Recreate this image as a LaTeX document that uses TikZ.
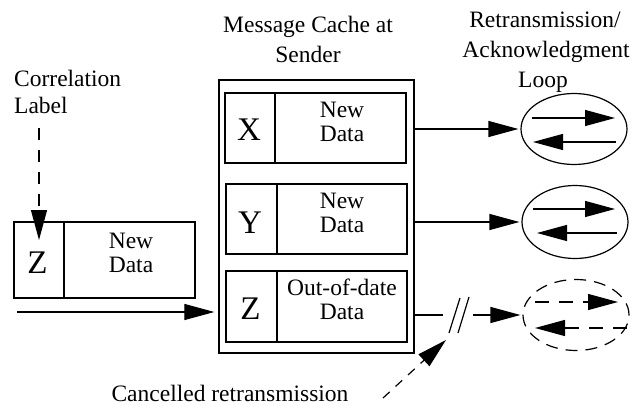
\documentclass[tikz,border=0pt]{standalone}
\usepackage{fontspec}
\setmainfont{Liberation Serif}
\usetikzlibrary{arrows.meta,shapes.geometric,calc}
\begin{document}
\begin{tikzpicture}[x=1pt,y=-1pt,
  cell/.style={draw, line width=1.3pt, inner sep=0pt, minimum width=#1},
  txt/.style={inner sep=0pt, anchor=base, font=\fontsize{23.5}{24}\selectfont},
  big/.style={inner sep=0pt, anchor=base, font=\fontsize{33}{33}\selectfont},
  arr/.style={-{Triangle[length=30pt,width=16pt]}, line width=1.2pt},
  loop/.style={draw, ellipse, line width=1.2pt, inner sep=0pt, minimum width=106pt, minimum height=71pt},
  dsh/.style={dash pattern=on 12pt off 8pt}
]
\useasboundingbox (0,0) rectangle (642,406);

% titles
\node[txt] (t1a) at (308,33) {Message Cache at};
\node[txt] (t1b) at (308,63) {Sender};
\node[txt] (t2a) at (545,28) {Retransmission/};
\node[txt] (t2b) at (546,58) {Acknowledgment};
\node[txt] (t2c) at (543,88) {Loop};
\node[txt, anchor=base west] (t3a) at (14,87) {Correlation};
\node[txt, anchor=base west] (t3b) at (14,114) {Label};
\node[txt] (t4) at (230,401) {Cancelled retransmission};

% cache
\node[cell=195pt, minimum height=273pt] (cache) at (316.5,216.5) {};
\node[cell=50pt, minimum height=70pt] (xl) at (250,128) {};
\node[cell=131pt, minimum height=70pt] (xd) at (340.5,128) {};
\node[cell=51pt, minimum height=70pt] (yl) at (251.5,219) {};
\node[cell=130pt, minimum height=70pt] (yd) at (342,219) {};
\node[cell=51pt, minimum height=71pt] (zl) at (251.5,306.5) {};
\node[cell=130pt, minimum height=71pt] (zd) at (342,306.5) {};

\node[big] (xt) at (249,141) {X};
\node[big] (yt) at (250,233) {Y};
\node[big] (zt) at (250.5,319) {Z};
\node[txt] (xd1) at (342,118) {New};
\node[txt] (xd2) at (342,142) {Data};
\node[txt] (yd1) at (342,208) {New};
\node[txt] (yd2) at (342,232) {Data};
\node[txt] (zd1) at (342,295) {Out-of-date};
\node[txt] (zd2) at (342,319) {Data};

% incoming message
\node[cell=50pt, minimum height=76pt] (ll) at (39,260) {};
\node[cell=131pt, minimum height=76pt] (ld) at (129.5,260) {};
\node[big] (lt) at (37.5,273) {Z};
\node[txt] (ld1) at (131,248) {New};
\node[txt] (ld2) at (131,272) {Data};

% loops
\node[loop] (e1) at (574,129) {};
\node[loop, minimum height=73pt] (e2) at (575,222) {};
\node[loop, dsh] (e3) at (576,315) {};

\draw[arr] ($(e1)+(-42,-11)$) -- ($(e1)+(41,-11)$);
\draw[arr] ($(e1)+(42,13)$) -- ($(e1)+(-41,13)$);
\draw[arr] ($(e2)+(-42,-13)$) -- ($(e2)+(40,-13)$);
\draw[arr] ($(e2)+(42,11)$) -- ($(e2)+(-38,11)$);
\draw[arr, dash pattern=on 14pt off 10pt] ($(e3)+(-41,-13)$) -- ($(e3)+(42,-13)$);
\draw[arr, dash pattern=on 14pt off 10pt] ($(e3)+(51,13)$) -- ($(e3)+(-41,13)$);

% connectors
\coordinate (ca) at (39,128);
\coordinate (cb) at (39,240);
\draw[arr, dash pattern=on 12pt off 10pt] (ca) -- (cb);

\coordinate (in1) at (17,312);
\draw[arr, shorten >=4pt] (in1) -- (cache.west |- in1);

\draw[arr, shorten >=2pt] (cache.east |- e1) -- (e1.west);
\draw[arr, shorten >=2pt] (cache.east |- e2) -- (e2.west);

\coordinate (cut1) at (443,315);
\coordinate (cut2) at (473,315);
\draw[line width=1.2pt] (cache.east |- e3) -- (cut1);
\draw[arr, shorten >=2pt] (cut2) -- (e3.west);
\draw[line width=1.2pt] (449,333) -- (460,298);
\draw[line width=1.2pt] (458,333) -- (469,297);

\coordinate (c1) at (383,398);
\coordinate (c2) at (446,340);
\draw[arr, dash pattern=on 9pt off 8pt] (c1) -- (c2);
\end{tikzpicture}
\end{document}
